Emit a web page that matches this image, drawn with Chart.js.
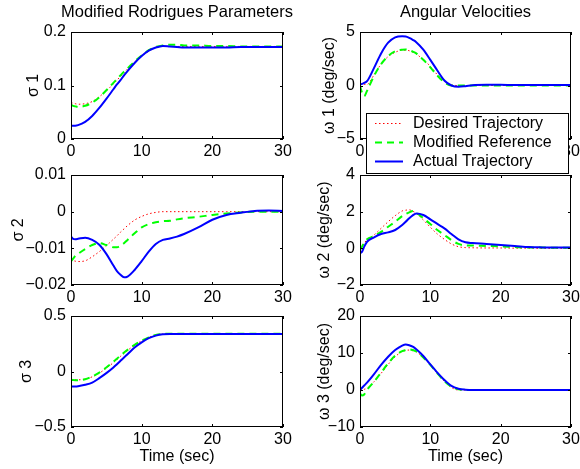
<!DOCTYPE html>
<html>
<head>
<meta charset="utf-8">
<script src="https://cdn.jsdelivr.net/npm/chart.js@4/dist/chart.umd.min.js"></script>
<style>
html, body { margin: 0; padding: 0; background: #fff; }
body { width: 580px; height: 469px; position: relative; overflow: hidden; }
canvas { position: absolute; }
</style>
</head>
<body>
<canvas id="sig1" width="300" height="160" style="left:0;top:0;z-index:1"></canvas>
<canvas id="sig2" width="300" height="145" style="left:0;top:160px;z-index:1"></canvas>
<canvas id="sig3" width="300" height="169" style="left:0;top:300px;z-index:1"></canvas>
<canvas id="om1" width="290" height="176" style="left:290px;top:0;z-index:3"></canvas>
<canvas id="om2" width="290" height="145" style="left:290px;top:160px;z-index:2"></canvas>
<canvas id="om3" width="290" height="169" style="left:290px;top:300px;z-index:2"></canvas>
<script>
/* attitude tracking: MRP + angular velocity subplots */
var time = [0, 0.3, 0.6, 1, 2, 3, 4, 5, 6, 6.5, 7, 7.5, 8, 9, 10, 11, 12, 13, 14, 15, 16, 18, 20, 22, 24, 26, 28, 30];
var seriesNames = ['Desired Trajectory', 'Modified Reference', 'Actual Trajectory'];
var xTicks = [0, 10, 20, 30];

var sig1Desired  = [.068,.067,.066,.065,.066,.070,.079,.090,.103,.110,.117,.124,.131,.144,.155,.164,.171,.173,.173,.173,.173,.173,.173,.173,.173,.173,.173,.173];
var sig1Modified = [.064,.062,.061,.060,.062,.068,.078,.091,.105,.112,.119,.126,.132,.145,.156,.166,.172,.175,.176,.176,.175,.175,.174,.174,.173,.173,.173,.173];
var sig1Actual   = [.025,.025,.025,.026,.032,.043,.058,.075,.093,.102,.110,.119,.127,.142,.155,.165,.171,.174,.173,.172,.171,.171,.171,.171,.172,.172,.172,.172];
var sig1Ticks = [0, 0.1, 0.2];

var sig2Desired  = [-.0129,-.0133,-.0135,-.0136,-.0134,-.0123,-.0109,-.0093,-.0075,-.0066,-.0056,-.0047,-.0038,-.0023,-.0013,-.0006,-.0002,0,0,0,0,0,0,0,0,0,0,0];
var sig2Modified = [-.0136,-.0128,-.0121,-.0115,-.0102,-.0091,-.0086,-.0091,-.0097,-.0097,-.0093,-.0086,-.0077,-.0059,-.0043,-.0034,-.0029,-.0026,-.0025,-.0021,-.0018,-.0014,-.0009,-.0005,-.0002,0,0,0];
var sig2Actual   = [-.0068,-.0074,-.0075,-.0074,-.0071,-.0077,-.0090,-.0115,-.0147,-.0162,-.0172,-.0179,-.0177,-.0159,-.0135,-.0109,-.0088,-.0077,-.0073,-.0068,-.0061,-.0043,-.0022,-.0009,-.0003,.0002,.0003,.0002];
var sig2Ticks = [-0.02, -0.01, 0, 0.01];

var sig3Desired  = [-.070,-.072,-.074,-.075,-.068,-.048,-.015,.030,.080,.108,.136,.163,.190,.237,.276,.307,.328,.337,.340,.340,.340,.340,.340,.340,.340,.340,.340,.340];
var sig3Modified = [-.075,-.077,-.078,-.078,-.070,-.045,-.010,.036,.087,.115,.144,.170,.195,.240,.278,.308,.330,.338,.340,.340,.340,.340,.340,.340,.340,.340,.340,.340];
var sig3Actual   = [-.135,-.135,-.135,-.133,-.120,-.100,-.060,-.015,.036,.066,.096,.126,.156,.216,.263,.300,.323,.335,.338,.338,.338,.338,.338,.338,.338,.338,.338,.338];
var sig3Ticks = [-0.5, 0, 0.5];

var om1Desired  = [.20,.15,.10,.10,1.0,2.0,2.7,3.1,3.3,3.3,3.25,3.12,2.95,2.4,1.8,1.0,.40,.05,0,0,0,0,0,0,0,0,0,0];
var om1Modified = [0,-.7,-1.0,-.5,.9,2.0,2.75,3.2,3.35,3.37,3.3,3.17,3.0,2.4,1.7,.93,.30,0,0,0,0,0,0,0,0,0,0,0];
var om1Actual   = [.10,.15,.25,.40,1.65,3.0,4.0,4.5,4.6,4.58,4.45,4.27,4.05,3.35,2.4,1.4,.47,0,-.12,-.06,.03,.06,.06,.05,.05,.05,.05,.05];
var om1Ticks = [-5, 0, 5];

var om2Desired  = [0,.15,.30,.45,.73,1.09,1.45,1.78,2.04,2.08,2.10,2.03,1.90,1.55,1.15,.78,.49,.24,.09,.04,.03,.02,.02,.01,.01,0,0,0];
var om2Modified = [-.09,.10,.30,.49,.67,.90,1.18,1.45,1.76,1.87,1.96,2.04,1.95,1.64,1.33,1.0,.73,.45,.24,.16,.15,.13,.11,.07,.04,.04,.03,.03];
var om2Actual   = [-.27,-.18,.09,.36,.60,.78,.87,1.0,1.27,1.45,1.64,1.80,1.90,1.82,1.58,1.33,1.09,.78,.49,.33,.29,.24,.18,.13,.07,.05,.04,.04];
var om2Ticks = [-2, 0, 2, 4];

var om3Desired  = [0,.1,.2,.45,2.25,4.5,6.9,9.0,10.4,10.7,10.8,10.6,10.3,8.8,6.8,4.5,2.4,.7,0,0,0,0,0,0,0,0,0,0];
var om3Modified = [-.9,-1.5,-1.2,0,2.25,4.7,7.2,9.3,10.5,10.8,11.0,10.8,10.4,8.8,6.8,4.5,2.4,.9,.2,0,0,0,0,0,0,0,0,0];
var om3Actual   = [0,.6,1.2,2.0,4.3,6.8,9.0,10.8,12.0,12.3,12.1,11.7,11.0,9.2,6.9,4.7,2.7,1.1,.36,.1,0,0,0,0,0,0,0,0];
var om3Ticks = [-10, 0, 10, 20];

var FONT = "'Liberation Sans', Arial, Helvetica, sans-serif";
Chart.defaults.font.family = FONT;
Chart.defaults.font.size = 16;
Chart.defaults.color = '#000';

function pts(arr) { return time.map(function(t, i) { return { x: t, y: arr[i] }; }); }
function minus(v) { return String(v).replace('-', '\u2212'); }

// box around the axes + inward tick marks like matlab
var framePlugin = {
    id: 'frame',
    afterDraw: function(chart) {
        var ca = chart.chartArea, ctx = chart.ctx, xs = chart.scales.x, ys = chart.scales.y;
        ctx.save();
        ctx.strokeStyle = '#000'; ctx.lineWidth = 1; ctx.setLineDash([]);
        ctx.strokeRect(ca.left + 0.5, ca.top + 0.5, ca.right - ca.left - 1, ca.bottom - ca.top - 1);
        ctx.beginPath();
        xs.ticks.forEach(function(t) {
            var px = Math.round(xs.getPixelForValue(t.value)) + 0.5;
            ctx.moveTo(px, ca.bottom); ctx.lineTo(px, ca.bottom - 3);
            ctx.moveTo(px, ca.top); ctx.lineTo(px, ca.top + 3);
        });
        ys.ticks.forEach(function(t) {
            var py = Math.round(ys.getPixelForValue(t.value)) + 0.5;
            ctx.moveTo(ca.left, py); ctx.lineTo(ca.left + 3, py);
            ctx.moveTo(ca.right, py); ctx.lineTo(ca.right - 3, py);
        });
        ctx.stroke();
        ctx.restore();
    }
};

// column title centred over the axes box (chart.js title squeezes to chartArea width)
var axesTitlePlugin = {
    id: 'axesTitle',
    afterDraw: function(chart, args, opts) {
        if (!opts.text) return;
        var ca = chart.chartArea, ctx = chart.ctx;
        ctx.save();
        ctx.fillStyle = '#000'; ctx.font = '16.5px ' + FONT;
        ctx.textAlign = 'center'; ctx.textBaseline = 'middle';
        ctx.fillText(opts.text, (ca.left + ca.right) / 2, ca.top - 19.5);
        ctx.restore();
    }
};

var legendPlugin = {
    id: 'legendBox',
    afterDraw: function(chart) {
        var ca = chart.chartArea, ctx = chart.ctx;
        var left = ca.left + 6, top = ca.bottom - 26, w = 202, h = 60;
        ctx.save();
        ctx.fillStyle = '#fff'; ctx.fillRect(left, top, w, h);
        ctx.strokeStyle = '#000'; ctx.lineWidth = 1; ctx.setLineDash([]);
        ctx.strokeRect(left + 0.5, top + 0.5, w, h);
        chart.data.datasets.forEach(function(ds, i) {
            var y = top + 10.5 + i * 19;
            ctx.beginPath();
            ctx.setLineDash(ds.borderDash || []);
            ctx.strokeStyle = ds.borderColor; ctx.lineWidth = ds.borderWidth;
            ctx.moveTo(left + 9, y); ctx.lineTo(left + 37, y); ctx.stroke();
            ctx.fillStyle = '#000'; ctx.font = '16px ' + FONT; ctx.textBaseline = 'middle';
            ctx.fillText(ds.label, left + 47, y);
        });
        ctx.restore();
    }
};

function makePanel(id, p) {
    var datasets = [
        { label: seriesNames[0], data: pts(p.desired),  borderColor: '#ff0000', borderWidth: 1, borderDash: [1.5, 2.5], order: 2 },
        { label: seriesNames[1], data: pts(p.modified), borderColor: '#00ff00', borderWidth: 2, borderDash: [7, 5], order: 1 },
        { label: seriesNames[2], data: pts(p.actual),   borderColor: '#0000ff', borderWidth: 2, order: 0 }
    ];
    var plugins = [framePlugin, axesTitlePlugin];
    if (p.legend) plugins.push(legendPlugin);
    return new Chart(document.getElementById(id), {
        type: 'line',
        data: { datasets: datasets },
        plugins: plugins,
        options: {
            responsive: false, animation: false, events: [],
            layout: { padding: p.pad },
            elements: { point: { radius: 0 }, line: { cubicInterpolationMode: 'monotone', fill: false } },
            plugins: {
                legend: { display: false }, tooltip: { enabled: false }, title: { display: false },
                axesTitle: { text: p.title || '' }
            },
            scales: {
                x: {
                    type: 'linear', min: 0, max: 30,
                    grid: { display: false, drawTicks: false }, border: { display: false },
                    afterBuildTicks: function(s) { s.ticks = xTicks.map(function(v) { return { value: v }; }); },
                    ticks: { padding: 2.5, maxRotation: 0, autoSkip: false },
                    title: { display: !!p.xTitle, text: p.xTitle, padding: { top: 0, bottom: 2.4 } },
                    afterFit: function(s) { s.height = p.xH; s.paddingLeft = 0; s.paddingRight = 0; }
                },
                y: {
                    min: p.ticks[0], max: p.ticks[p.ticks.length - 1],
                    grid: { display: false, drawTicks: false }, border: { display: false },
                    afterBuildTicks: function(s) { s.ticks = p.ticks.map(function(v) { return { value: v }; }); },
                    ticks: { padding: 5, callback: minus },
                    title: { display: true, text: p.yTitle, padding: { top: p.yTitlePad, bottom: 0 } },
                    afterFit: function(s) { s.width = p.yW; s.paddingTop = 0; s.paddingBottom = 0; }
                }
            }
        }
    });
}

makePanel('sig1', { desired: sig1Desired, modified: sig1Modified, actual: sig1Actual, ticks: sig1Ticks, yTitle: '\u03c3 1', yTitlePad: 24.4, title: 'Modified Rodrigues Parameters', yW: 71, xH: 20, pad: { left: 0, right: 17, top: 32, bottom: 1 } });
makePanel('sig2', { desired: sig2Desired, modified: sig2Modified, actual: sig2Actual, ticks: sig2Ticks, yTitle: '\u03c3 2', yTitlePad: 9.4, yW: 71, xH: 20, pad: { left: 0, right: 17, top: 15, bottom: 0 } });
makePanel('sig3', { desired: sig3Desired, modified: sig3Modified, actual: sig3Actual, ticks: sig3Ticks, yTitle: '\u03c3 3', yTitlePad: 17.4, xTitle: 'Time (sec)', yW: 71, xH: 42, pad: { left: 0, right: 17, top: 16, bottom: 0 } });
makePanel('om1', { desired: om1Desired, modified: om1Modified, actual: om1Actual, ticks: om1Ticks, yTitle: '\u03c9 1 (deg/sec)', yTitlePad: 30.4, title: 'Angular Velocities', legend: true, yW: 70, xH: 20, pad: { left: 0, right: 9, top: 32, bottom: 17 } });
makePanel('om2', { desired: om2Desired, modified: om2Modified, actual: om2Actual, ticks: om2Ticks, yTitle: '\u03c9 2 (deg/sec)', yTitlePad: 25.4, yW: 70, xH: 20, pad: { left: 0, right: 9, top: 15, bottom: 0 } });
makePanel('om3', { desired: om3Desired, modified: om3Modified, actual: om3Actual, ticks: om3Ticks, yTitle: '\u03c9 3 (deg/sec)', yTitlePad: 25.4, xTitle: 'Time (sec)', yW: 70, xH: 42, pad: { left: 0, right: 9, top: 16, bottom: 0 } });
</script>
</body>
</html>
